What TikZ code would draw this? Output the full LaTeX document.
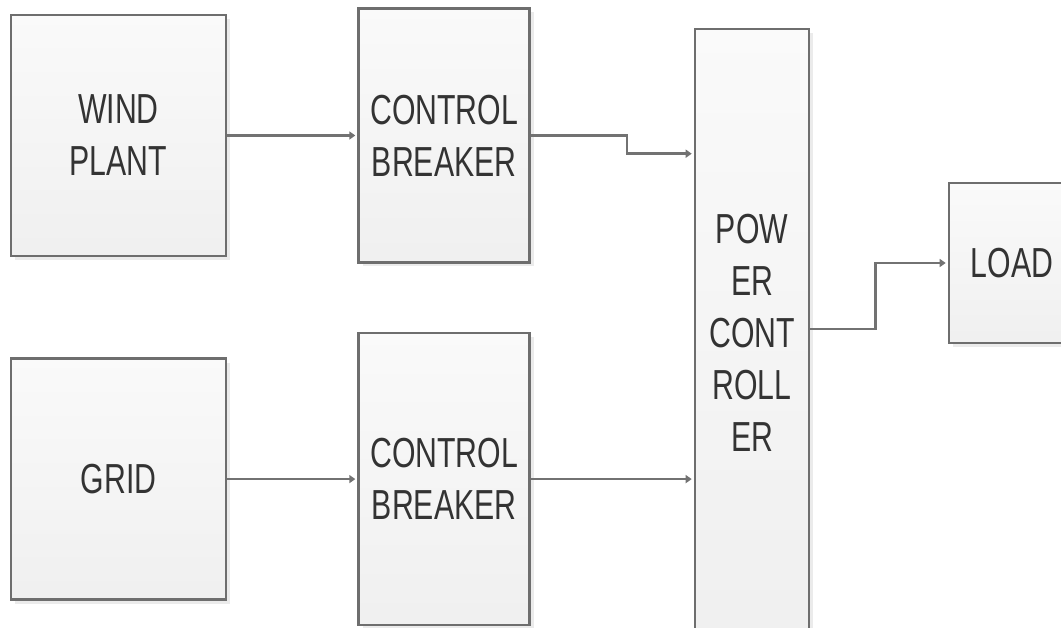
\documentclass[tikz,border=0pt]{standalone}
\usepackage{fontspec}
\setmainfont[FakeStretch=0.72]{Liberation Sans}
\usepackage{tikz}
\usetikzlibrary{arrows.meta, positioning, shadows}

\definecolor{edgegray}{HTML}{6E6E6E}
\definecolor{wiregray}{HTML}{727272}
\definecolor{shadowgray}{HTML}{EBEBEB}
\definecolor{textgray}{HTML}{333333}

\begin{document}
\begin{tikzpicture}[
    x=1pt, y=1pt,
    node distance=100pt and 130pt,
    block/.style={rectangle, draw=edgegray, line width=2.6pt, align=center,
        top color=white!98!black, bottom color=black!6,
        drop shadow={shadow xshift=4pt, shadow yshift=-4pt, fill=shadowgray, opacity=1},
        text=textgray, font=\fontsize{42}{52}\selectfont, inner sep=0pt},
    arrow/.style={draw=wiregray, line width=2.4pt,
        -{Triangle[length=6pt, width=8pt, sep=2pt]}}
]
\useasboundingbox (0,0) rectangle (1061,628);

% Sources and breakers
\node (wind) [block, minimum width=215pt, minimum height=241pt] at (118.5,492.5) {WIND\\PLANT};
\node (cbwind) [block, right=of wind, minimum width=171pt, minimum height=254pt] {CONTROL\\BREAKER};
\node (grid) [block, below=of wind, minimum width=215pt, minimum height=241pt] {GRID};
\node (cbgrid) [block, right=of grid, minimum width=171pt, minimum height=292pt] {CONTROL\\BREAKER};

% Controller and load
\node (pc) [block, minimum width=114pt, minimum height=608pt] at (752,295) {POW\\ER\\CONT\\ROLL\\ER};
\node (load) [block, minimum width=126pt, minimum height=160pt] at (1012,365) {LOAD};

% Connections
\draw [arrow] (wind) -- (cbwind);
\draw [arrow] (cbwind.east) -- ++(96,0) |- ([yshift=-126pt]pc.north west);
\draw [arrow] (grid) -- (cbgrid);
\draw [arrow] (cbgrid.east) -- (cbgrid.east -| pc.west);
\draw [arrow] ([yshift=4pt]pc.east) -- ++(65,0) |- (load.west);

\end{tikzpicture}
\end{document}
